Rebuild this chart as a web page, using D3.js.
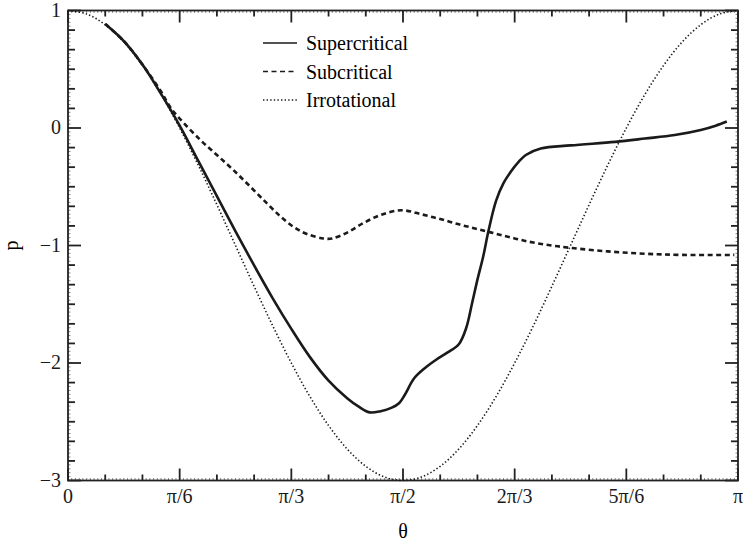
<!DOCTYPE html>
<html>
<head>
<meta charset="utf-8">
<script src="https://cdn.jsdelivr.net/npm/d3@7"></script>
<style>
  body { margin: 0; background: white; }
  text { font-family: "Liberation Serif", "Times New Roman", serif; }
</style>
</head>
<body>
<div id="canvas"></div>
<script>
"use strict"

// angles in degrees, pressure coefficient p
let irrotTheta = [0, 5, 10, 15, 20, 25, 30, 35, 40, 45, 50, 55, 60, 65, 70, 75, 80, 85, 90,
                  95, 100, 105, 110, 115, 120, 125, 130, 135, 140, 145, 150, 155, 160, 165, 170, 175, 180];
let irrotP = [1, 0.970, 0.879, 0.732, 0.532, 0.286, 0, -0.316, -0.653, -1, -1.347, -1.684, -2, -2.286, -2.532, -2.732, -2.879, -2.970, -3,
              -2.970, -2.879, -2.732, -2.532, -2.286, -2, -1.684, -1.347, -1, -0.653, -0.316, 0, 0.286, 0.532, 0.732, 0.879, 0.970, 1];

let superTheta = [10, 15, 20, 25, 30, 35, 40, 45, 50, 55, 60, 65, 70, 75, 78, 81, 84, 87, 89, 90.5,
                  93, 96, 99, 102, 105, 107, 108.5, 110, 111.5, 113, 115, 117, 119, 121, 123, 127,
                  135, 147, 155, 163, 170, 174, 177];
let superP = [0.885, 0.74, 0.54, 0.29, 0.02, -0.28, -0.58, -0.88, -1.17, -1.45, -1.71, -1.95, -2.15, -2.30, -2.37, -2.42, -2.41, -2.38, -2.34, -2.27,
              -2.13, -2.04, -1.97, -1.91, -1.84, -1.70, -1.50, -1.29, -1.10, -0.87, -0.62, -0.47, -0.37, -0.29, -0.23, -0.175,
              -0.148, -0.118, -0.09, -0.06, -0.017, 0.02, 0.055];

let subTheta = [10, 15, 20, 25, 27.4, 30, 35.5, 40, 44.4, 49, 53.4, 57, 60.5, 64, 68.6, 71, 75, 79.3, 84, 89.6,
                95, 100, 105, 110, 115, 120, 125, 130, 135, 145, 155, 165, 179];
let subP = [0.885, 0.74, 0.54, 0.31, 0.18, 0.08, -0.10, -0.23, -0.357, -0.50, -0.64, -0.75, -0.84, -0.90, -0.94, -0.94, -0.89, -0.81, -0.74, -0.70,
            -0.735, -0.775, -0.82, -0.86, -0.90, -0.94, -0.975, -1.00, -1.02, -1.05, -1.07, -1.08, -1.08];

let xTicks = [0, 30, 60, 90, 120, 150, 180];
let xTickLabels = ["0", "π/6", "π/3", "π/2", "2π/3", "5π/6", "π"];
let yTicks = [-3, -2, -1, 0, 1];
let yTickLabels = ["−3", "−2", "−1", "0", "1"];

let seriesNames = ["Supercritical", "Subcritical", "Irrotational"];

let drawingWidth = 743;
let drawingHeight = 545;
let plotLeft = 68, plotRight = 738, plotTop = 10.5, plotBottom = 480.5;

let x = d3.scaleLinear().domain([0, 180]).range([plotLeft, plotRight]);
let y = d3.scaleLinear().domain([-3, 1]).range([plotBottom, plotTop]);

let drawing = d3.select("#canvas")
    .append("svg")
    .attr("width", drawingWidth)
    .attr("height", drawingHeight);

drawing.append("rect")
    .attr("width", drawingWidth)
    .attr("height", drawingHeight)
    .attr("fill", "white");

// fine hatch ticks along the frame
let fine = drawing.append("g").attr("stroke", "#555").attr("stroke-width", 0.7);
d3.range(0, 181, 1).forEach(function (d) {
    fine.append("line").attr("x1", x(d)).attr("x2", x(d)).attr("y1", plotBottom).attr("y2", plotBottom - 2.5);
    fine.append("line").attr("x1", x(d)).attr("x2", x(d)).attr("y1", plotTop).attr("y2", plotTop + 2.5);
});
d3.range(-90, 31, 1).forEach(function (i) {
    let v = i / 30;
    fine.append("line").attr("x1", plotLeft).attr("x2", plotLeft + 2.5).attr("y1", y(v)).attr("y2", y(v));
    fine.append("line").attr("x1", plotRight).attr("x2", plotRight - 2.5).attr("y1", y(v)).attr("y2", y(v));
});

// minor and major ticks, mirrored on all four sides
let ticks = drawing.append("g").attr("stroke", "#222").attr("stroke-width", 1.8);
d3.range(0, 181, 10).forEach(function (d) {
    let len = d % 30 === 0 ? 12 : 6;
    ticks.append("line").attr("x1", x(d)).attr("x2", x(d)).attr("y1", plotBottom).attr("y2", plotBottom - len);
    ticks.append("line").attr("x1", x(d)).attr("x2", x(d)).attr("y1", plotTop).attr("y2", plotTop + len);
});
d3.range(-18, 7, 1).forEach(function (i) {
    let v = i / 6;
    let len = i % 6 === 0 ? 13 : 7;
    ticks.append("line").attr("x1", plotLeft).attr("x2", plotLeft + len).attr("y1", y(v)).attr("y2", y(v));
    ticks.append("line").attr("x1", plotRight).attr("x2", plotRight - len).attr("y1", y(v)).attr("y2", y(v));
});

drawing.append("rect")
    .attr("x", plotLeft)
    .attr("y", plotTop)
    .attr("width", plotRight - plotLeft)
    .attr("height", plotBottom - plotTop)
    .attr("fill", "none")
    .attr("stroke", "#222")
    .attr("stroke-width", 1.8);

// tick labels
xTicks.forEach(function (d, i) {
    drawing.append("text")
        .attr("x", x(d))
        .attr("y", 503)
        .attr("text-anchor", "middle")
        .attr("font-size", 20)
        .attr("fill", "#1a1a1a")
        .text(xTickLabels[i]);
});
yTicks.forEach(function (d, i) {
    drawing.append("text")
        .attr("x", plotLeft - 7)
        .attr("y", y(d) + 6)
        .attr("text-anchor", "end")
        .attr("font-size", 20)
        .attr("fill", "#1a1a1a")
        .text(yTickLabels[i]);
});

drawing.append("text")
    .attr("x", (plotLeft + plotRight) / 2)
    .attr("y", 538)
    .attr("text-anchor", "middle")
    .attr("font-size", 20)
    .text("θ");

drawing.append("text")
    .attr("transform", "translate(18," + (y(-1)) + ") rotate(-90)")
    .attr("text-anchor", "middle")
    .attr("font-size", 20)
    .text("p");

// curves
let line = d3.line()
    .x(d => x(d[0]))
    .y(d => y(d[1]))
    .curve(d3.curveCatmullRom.alpha(0.5));

let styles = [
    { width: 2.6, dash: null },
    { width: 2.6, dash: "5,3.5" },
    { width: 1.6, dash: "1.4,2.2" }
];

let seriesData = [
    d3.zip(superTheta, superP),
    d3.zip(subTheta, subP),
    d3.zip(irrotTheta, irrotP)
];

[2, 1, 0].forEach(function (k) {
    drawing.append("path")
        .attr("d", line(seriesData[k]))
        .attr("fill", "none")
        .attr("stroke", "#1a1a1a")
        .attr("stroke-width", styles[k].width)
        .attr("stroke-dasharray", styles[k].dash);
});

// legend
seriesNames.forEach(function (name, k) {
    let ly = 43 + k * 28.5;
    drawing.append("line")
        .attr("x1", 263)
        .attr("x2", 297)
        .attr("y1", ly)
        .attr("y2", ly)
        .attr("stroke", "#1a1a1a")
        .attr("stroke-width", k === 2 ? 1.3 : 1.6)
        .attr("stroke-dasharray", styles[k].dash);
    drawing.append("text")
        .attr("x", 306)
        .attr("y", ly + 7)
        .attr("font-size", 20)
        .text(name);
});
</script>
</body>
</html>
